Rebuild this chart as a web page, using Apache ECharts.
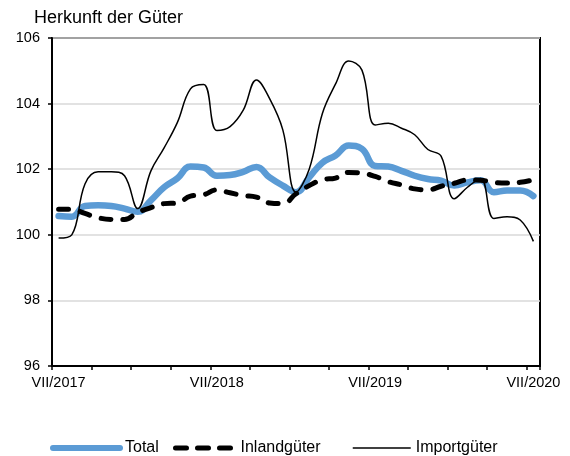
<!DOCTYPE html>
<html>
<head>
<meta charset="utf-8">
<script src="https://cdn.jsdelivr.net/npm/echarts@6/dist/echarts.min.js"></script>
<style>
html,body{margin:0;padding:0;background:#fff;}
#c{width:570px;height:456px;}
</style>
</head>
<body>
<div id="c"></div>
<script>
var categories = [
  'VII/2017','VIII/2017','IX/2017','X/2017','XI/2017','XII/2017',
  'I/2018','II/2018','III/2018','IV/2018','V/2018','VI/2018',
  'VII/2018','VIII/2018','IX/2018','X/2018','XI/2018','XII/2018',
  'I/2019','II/2019','III/2019','IV/2019','V/2019','VI/2019',
  'VII/2019','VIII/2019','IX/2019','X/2019','XI/2019','XII/2019',
  'I/2020','II/2020','III/2020','IV/2020','V/2020','VI/2020',
  'VII/2020'
];
var total = [
  100.57, 100.55, 100.88, 100.90, 100.88, 100.80,
  100.70, 101.05, 101.45, 101.72, 102.08, 102.05,
  101.80, 101.82, 101.92, 102.07, 101.75, 101.50,
  101.30, 101.75, 102.20, 102.42, 102.72, 102.62,
  102.10, 102.08, 101.95, 101.80, 101.70, 101.65,
  101.50, 101.60, 101.66, 101.30, 101.35, 101.35,
  101.18
];
var inland = [
  100.78, 100.78, 100.65, 100.52, 100.47, 100.47,
  100.68, 100.83, 100.95, 100.97, 101.18, 101.22,
  101.37, 101.28, 101.20, 101.15, 100.97, 100.95,
  101.25, 101.50, 101.68, 101.73, 101.90, 101.88,
  101.78, 101.62, 101.52, 101.40, 101.37, 101.48,
  101.57, 101.67, 101.66, 101.60, 101.58, 101.60,
  101.68
];
var imported = [
  99.90, 100.00, 101.55, 101.92, 101.92, 101.80,
  100.80, 101.95, 102.65, 103.42, 104.45, 104.58,
  103.18, 103.30, 103.80, 104.72, 104.15, 103.20,
  101.30, 102.00, 103.70, 104.60, 105.30, 105.02,
  103.35, 103.40, 103.25, 103.05, 102.60, 102.40,
  101.10, 101.45, 101.72, 100.50, 100.55, 100.45,
  99.80
];
var seriesNames = ['Total', 'Inlandgüter', 'Importgüter'];
var yTicks = [96, 98, 100, 102, 104, 106];
var titleText = 'Herkunft der Güter';

var FONT = '"Liberation Sans", Arial, sans-serif';
var legendText = {fontFamily: FONT, fontSize: 16, color: '#000'};
var noSymbol = {color: 'rgba(0,0,0,0)', borderWidth: 0, opacity: 0};
var chart = echarts.init(document.getElementById('c'), null, {renderer: 'canvas'});
chart.setOption({
  animation: false,
  backgroundColor: '#ffffff',
  title: {
    text: titleText,
    left: 34, top: 9, padding: 0,
    textStyle: {fontFamily: FONT, fontSize: 18, fontWeight: 'normal', color: '#000'}
  },
  grid: {
    left: 52, right: 30, top: 38, bottom: 90,
    show: true, borderColor: '#000', borderWidth: 2, backgroundColor: 'transparent'
  },
  legend: [
    {data: [seriesNames[0]], left: 50, top: 440, itemWidth: 67, itemHeight: 14, padding: 0,
     itemStyle: noSymbol,
     lineStyle: {color: '#5b9bd5', width: 6, cap: 'round', type: 'solid'},
     textStyle: legendText},
    {data: [seriesNames[1]], left: 173, top: 440, itemWidth: 60, itemHeight: 14, padding: 0,
     itemStyle: noSymbol,
     lineStyle: {color: '#000', type: [11, 11], width: 5, cap: 'round'},
     textStyle: legendText},
    {data: [seriesNames[2]], left: 352, top: 440, itemWidth: 58, itemHeight: 14, padding: 0,
     itemStyle: noSymbol,
     lineStyle: {color: '#000', width: 1.5, type: 'solid'},
     textStyle: legendText}
  ],
  xAxis: {
    type: 'category',
    data: categories,
    boundaryGap: true,
    axisLine: {show: true, lineStyle: {color: '#000', width: 2}},
    axisTick: {show: true, length: 4, lineStyle: {color: '#000', width: 1.5},
      interval: function (i) { return i % 3 === 0; }},
    axisLabel: {
      interval: function (i) { return i % 12 === 0; },
      fontFamily: FONT, fontSize: 14.5, color: '#000', margin: 9
    },
    splitLine: {show: false}
  },
  yAxis: {
    type: 'value',
    min: yTicks[0], max: yTicks[yTicks.length - 1], interval: 2,
    axisLine: {show: true, lineStyle: {color: '#000', width: 2}},
    axisTick: {show: true, length: 4, lineStyle: {color: '#000', width: 1.5}},
    axisLabel: {fontFamily: FONT, fontSize: 14.5, color: '#000', margin: 12},
    splitLine: {show: true, lineStyle: {color: '#d9d9d9', width: 1.5}}
  },
  series: [
    {
      name: seriesNames[0], type: 'line', data: total, smooth: 0.45,
      symbol: 'none', z: 3,
      lineStyle: {color: '#5b9bd5', width: 6.5, cap: 'round', join: 'round'},
      itemStyle: {color: '#5b9bd5'}
    },
    {
      name: seriesNames[1], type: 'line', data: inland, smooth: 0.45,
      symbol: 'none', z: 4,
      lineStyle: {color: '#000', width: 5, type: [10, 12], cap: 'round', join: 'round'},
      itemStyle: {color: '#000'}
    },
    {
      name: seriesNames[2], type: 'line', data: imported, smooth: 0.4,
      symbol: 'none', z: 5,
      lineStyle: {color: '#000', width: 1.5, join: 'round'},
      itemStyle: {color: '#000'}
    }
  ]
});
</script>
</body>
</html>
